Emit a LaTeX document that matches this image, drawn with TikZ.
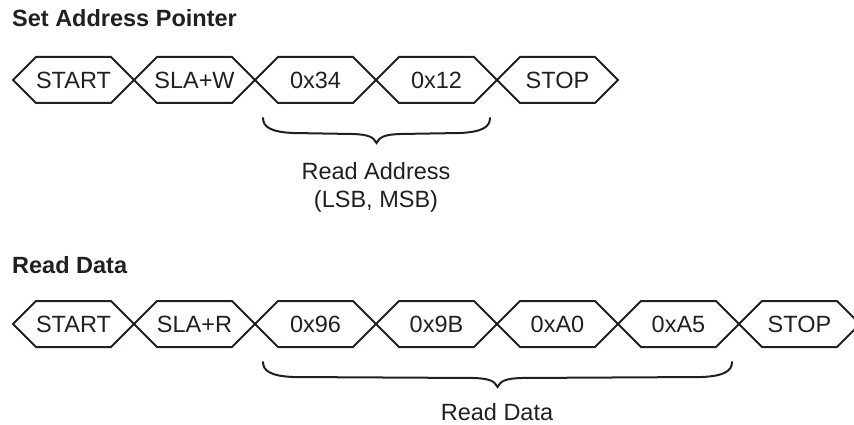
\documentclass[tikz,border=0pt]{standalone}
\usepackage{fontspec}
\setmainfont{Liberation Sans}
\definecolor{ink}{HTML}{231F20}
\newcommand\hexcell[5]{%
  \draw[cell] (#2,#4) -- (#2+23,#4-23) -- (#3-23,#4-23) -- (#3,#4) -- (#3-23,#4+23) -- (#2+23,#4+23) -- cycle;
  \node[lab] (#1) at ({(#2+#3)/2},#4+8.5) {#5};
}
% brace: left x, right x, top y
\newcommand\curlybrace[3]{%
  \draw[bracestyle] (#1,#3) .. controls (#1,#3+9) and (#1+8,#3+14) .. (#1+30,#3+15)
    -- ({(#1+#2)/2-24},#3+16) .. controls ({(#1+#2)/2-8},#3+16.5) and ({(#1+#2)/2-3},#3+19) .. ({(#1+#2)/2},#3+25)
    .. controls ({(#1+#2)/2+3},#3+19) and ({(#1+#2)/2+8},#3+16.5) .. ({(#1+#2)/2+24},#3+16)
    -- (#2-30,#3+15) .. controls (#2-8,#3+14) and (#2,#3+9) .. (#2,#3);
}
\begin{document}
\begin{tikzpicture}[x=1pt,y=-1pt,
  cell/.style={draw=ink, line width=2pt, line join=miter},
  lab/.style={anchor=base, inner sep=0pt, text=ink, font=\fontsize{23.5}{29}\selectfont},
  title/.style={anchor=base west, inner sep=0pt, text=ink, font=\fontsize{23.5}{28}\selectfont\bfseries},
  bracestyle/.style={draw=ink, line width=2pt, line cap=round},
  note/.style={inner sep=0pt, text=ink, align=center, font=\fontsize{23.5}{28}\selectfont}]
\useasboundingbox (0,0) rectangle (854,425);
% titles
\node[title] (t1) at (12,27) {Set Address Pointer};
\node[title] (t2) at (12,273) {Read Data};
% top row
\hexcell{a1}{13}{134}{80}{START}
\hexcell{a2}{134}{255}{80}{SLA+W}
\hexcell{a3}{255}{376}{80}{0x34}
\hexcell{a4}{376}{497}{80}{0x12}
\hexcell{a5}{497}{618}{80}{STOP}
% bottom row
\hexcell{b1}{13}{134}{324}{START}
\hexcell{b2}{134}{255}{324}{SLA+R}
\hexcell{b3}{255}{376}{324}{0x96}
\hexcell{b4}{376}{497}{324}{0x9B}
\hexcell{b5}{497}{618}{324}{0xA0}
\hexcell{b6}{618}{739}{324}{0xA5}
\hexcell{b7}{739}{860}{324}{STOP}
% braces
\curlybrace{263}{490}{118}
\node[note] (n1) at (376,187) {Read Address\\(LSB, MSB)};
\curlybrace{263}{732}{362}
\node[lab] (n2) at (497,420) {Read Data};
\end{tikzpicture}
\end{document}
